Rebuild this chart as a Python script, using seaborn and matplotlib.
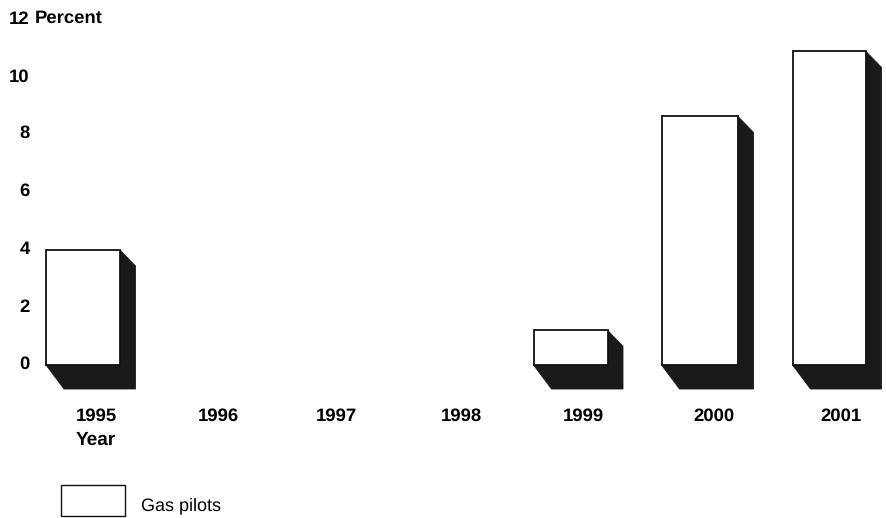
import matplotlib
matplotlib.use("Agg")
import matplotlib.pyplot as plt
from matplotlib.patches import Patch, Polygon
from matplotlib.transforms import ScaledTranslation
import pandas as pd
import seaborn as sns

# data
YEARS = ["1995", "1996", "1997", "1998", "1999", "2000", "2001"]
GAS_PILOTS = [3.98, 0, 0, 0, 1.2, 8.6, 10.85]
Y_TICKS = [0, 2, 4, 6, 8, 10, 12]

# layout, all in pixels of the 886x518 picture
FIG_W, FIG_H = 886, 518
AX_LEFT, AX_RIGHT, AX_TOP, AX_BOTTOM = 40, 886, 18, 389
ZERO_Y = 365.0
PX_PER_UNIT = 28.9
BAR_SPACING = 124.3
FIRST_BAR = 83.0
# the original spacing is uneven, so bars and labels get nudged
BAR_LEFTS = [46, None, None, None, 533.5, 661.5, 792.5]
BAR_WIDTHS = [74, None, None, None, 74, 76.5, 73.5]
LABEL_CENTERS = [96, 218, 336, 461, 583, 714, 841]
Y_LABEL_NUDGE = [3, 2, 2, 2, 2, 1, 1]
SHADOW = "#1a1a1a"
BOLD_SIZE = 13.3


def px_to_x(px):
    return (px - FIRST_BAR) / BAR_SPACING


def draw_shadow(ax, bar):
    """ Black side and floor behind a bar, stepped off the bar's own corners """
    left, right = bar.get_x(), bar.get_x() + bar.get_width()
    top = bar.get_height()
    dx = 15.5 / BAR_SPACING
    dx_floor = 18 / BAR_SPACING
    dy = 16 / PX_PER_UNIT
    depth = 24 / PX_PER_UNIT
    pts = [(right, top), (right + dx, top - dy), (right + dx, -depth),
           (left + dx_floor, -depth), (left, 0)]
    ax.add_patch(Polygon(pts, closed=True, facecolor=SHADOW, edgecolor=SHADOW,
                         linewidth=0.6, zorder=1, clip_on=False))


def main():
    sns.set_theme(style="white")
    plt.rcParams["font.family"] = ["Liberation Sans", "DejaVu Sans"]
    plt.rcParams["text.color"] = "black"
    plt.rcParams["text.hinting"] = "no_hinting"

    fig = plt.figure(figsize=(FIG_W / 100, FIG_H / 100), dpi=100)
    ax = fig.add_axes([AX_LEFT / FIG_W, 1 - AX_BOTTOM / FIG_H,
                       (AX_RIGHT - AX_LEFT) / FIG_W, (AX_BOTTOM - AX_TOP) / FIG_H])

    df = pd.DataFrame({"year": YEARS, "pct": GAS_PILOTS})
    sns.barplot(data=df, x="year", y="pct", color="white", saturation=1,
                edgecolor="#111111", linewidth=1.3, width=0.6, ax=ax, zorder=2)

    for bar, left, width in zip(ax.patches, BAR_LEFTS, BAR_WIDTHS):
        if left is None:
            bar.set_visible(False)
            continue
        bar.set_x(px_to_x(left))
        bar.set_width(width / BAR_SPACING)
        draw_shadow(ax, bar)

    ax.set_xlim(px_to_x(AX_LEFT), px_to_x(AX_RIGHT))
    ax.set_ylim((ZERO_Y - AX_BOTTOM) / PX_PER_UNIT, (ZERO_Y - AX_TOP) / PX_PER_UNIT)

    ax.set_xticks([px_to_x(p) for p in LABEL_CENTERS])
    ax.set_xticklabels(YEARS, fontsize=BOLD_SIZE, fontweight="bold", color="black")
    ax.set_yticks(Y_TICKS)
    ax.set_yticklabels([str(t) for t in Y_TICKS], fontsize=BOLD_SIZE, fontweight="bold", color="black")
    ax.tick_params(axis="x", length=0, pad=13.5)
    ax.tick_params(axis="y", length=0, pad=7.5)
    for label, nudge in zip(ax.get_yticklabels(), Y_LABEL_NUDGE):
        label.set_transform(label.get_transform() + ScaledTranslation(0, nudge / 100, fig.dpi_scale_trans))
    ax.set_xlabel("Year", x=(LABEL_CENTERS[0] - AX_LEFT) / (AX_RIGHT - AX_LEFT),
                  fontsize=BOLD_SIZE + 0.4, fontweight="bold", color="black", labelpad=4.5)
    ax.set_ylabel("")
    ax.text(px_to_x(35), Y_TICKS[-1], "Percent", fontsize=BOLD_SIZE, fontweight="bold",
            color="black", ha="left", va="center", clip_on=False)
    sns.despine(ax=ax, left=True, bottom=True)
    ax.grid(False)

    handle = Patch(facecolor="white", edgecolor="#111111", linewidth=1.0, label="Gas pilots")
    leg = ax.legend(handles=[handle], frameon=False, fontsize=13,
                    loc="lower left", bbox_to_anchor=(60.5 / FIG_W, 1 - 515.5 / FIG_H),
                    bbox_transform=fig.transFigure, borderpad=0, borderaxespad=0,
                    handlelength=3.55, handleheight=2.2, handletextpad=0.9)
    leg.get_texts()[0].set_position((0, -4))

    fig.savefig("out.png", dpi=100)


if __name__ == "__main__":
    main()
